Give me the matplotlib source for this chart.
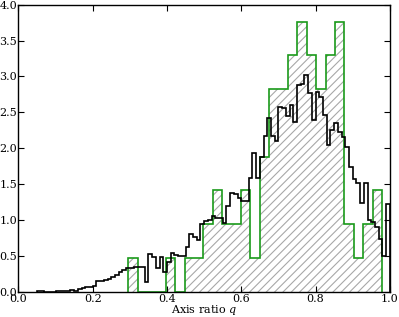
import numpy as np
import matplotlib
matplotlib.use("Agg")
import matplotlib.pyplot as plt

plt.rcParams['font.family'] = ['DejaVu Serif']
plt.rcParams['mathtext.fontset'] = 'dejavuserif'
plt.rcParams['hatch.linewidth'] = 0.8
plt.rcParams['hatch.color'] = '#a8a8a8'

# Fine histogram (black): density values on 0.01-wide bins from 0.05 to 1.00
fine_start = 0.05
fine_width = 0.01
fine_density = [
    0.014, 0.014, 0.0, 0.0, 0.0,            # 0.05-0.10
    0.014, 0.014, 0.014, 0.014, 0.023,      # 0.10-0.15
    0.014, 0.037, 0.046, 0.06, 0.06,        # 0.15-0.20
    0.084, 0.15, 0.15, 0.16, 0.17,          # 0.20-0.25
    0.20, 0.23, 0.28, 0.30, 0.33,           # 0.25-0.30
    0.33, 0.35, 0.35, 0.34, 0.14,           # 0.30-0.35
    0.52, 0.48, 0.33, 0.48, 0.28,           # 0.35-0.40
    0.42, 0.54, 0.51, 0.50, 0.50,           # 0.40-0.45
    0.62, 0.80, 0.76, 0.72, 0.94,           # 0.45-0.50
    0.98, 1.00, 1.06, 1.03, 1.03,           # 0.50-0.55
    0.96, 1.20, 1.38, 1.36, 1.30,           # 0.55-0.60
    1.26, 1.26, 1.58, 1.93, 1.58,           # 0.60-0.65
    1.88, 2.17, 2.42, 2.17, 2.10,           # 0.65-0.70
    2.58, 2.56, 2.45, 2.60, 2.37,           # 0.70-0.75
    2.88, 2.90, 3.02, 2.77, 2.40,           # 0.75-0.80
    2.78, 2.72, 2.46, 2.05, 2.25,           # 0.80-0.85
    2.35, 2.22, 2.15, 2.02, 1.74,           # 0.85-0.90
    1.57, 1.51, 1.23, 1.51, 1.00,           # 0.90-0.95
    0.97, 0.90, 0.74, 0.50, 1.22,           # 0.95-1.00
]

# Coarse histogram (green, hatched): counts in 27 equal bins over [min, max]
coarse_min = 0.2957
coarse_max = 0.979
coarse_counts = [1, 0, 0, 0, 1, 0, 1, 1, 2, 3, 2, 2, 3, 1,
                 4, 6, 6, 7, 8, 7, 6, 7, 8, 2, 1, 2, 3]

xticks = [0.0, 0.2, 0.4, 0.6, 0.8, 1.0]
yticks = [0.0, 0.5, 1.0, 1.5, 2.0, 2.5, 3.0, 3.5, 4.0]
xlabel = 'Axis ratio $q$'

fig = plt.figure(figsize=(3.99, 3.17), dpi=100)
ax = fig.add_axes([0.046, 0.080, 0.931, 0.905])

fine_density = np.asarray(fine_density)
fine_edges = fine_start + fine_width * np.arange(len(fine_density) + 1)

coarse_counts = np.asarray(coarse_counts, dtype=float)
coarse_edges = np.linspace(coarse_min, coarse_max, len(coarse_counts) + 1)
coarse_density = coarse_counts / (coarse_counts.sum() * np.diff(coarse_edges))

ax.stairs(coarse_density, coarse_edges, fill=True, facecolor='none',
          edgecolor='#a8a8a8', hatch='////', linewidth=0, zorder=1)
ax.stairs(coarse_density, coarse_edges, fill=False, color='#1a9a1a',
          linewidth=1.2, zorder=2)
ax.stairs(fine_density, fine_edges, fill=False, color='black',
          linewidth=1.2, zorder=3)

ax.set_xlim(0, 1)
ax.set_ylim(0, 4)
ax.set_xticks(xticks)
ax.set_yticks(yticks)
ax.set_xticklabels([f'{v:.1f}' for v in xticks])
ax.set_yticklabels([f'{v:.1f}' for v in yticks])
ax.tick_params(direction='in', top=True, right=True, length=4, width=0.8,
               labelsize=8, pad=2, colors='black')
ax.tick_params(axis='y', pad=1)
for s in ax.spines.values():
    s.set_linewidth(1.0)
ax.set_xlabel(xlabel, fontsize=8, labelpad=-1)

fig.savefig('out.png', dpi=100)
